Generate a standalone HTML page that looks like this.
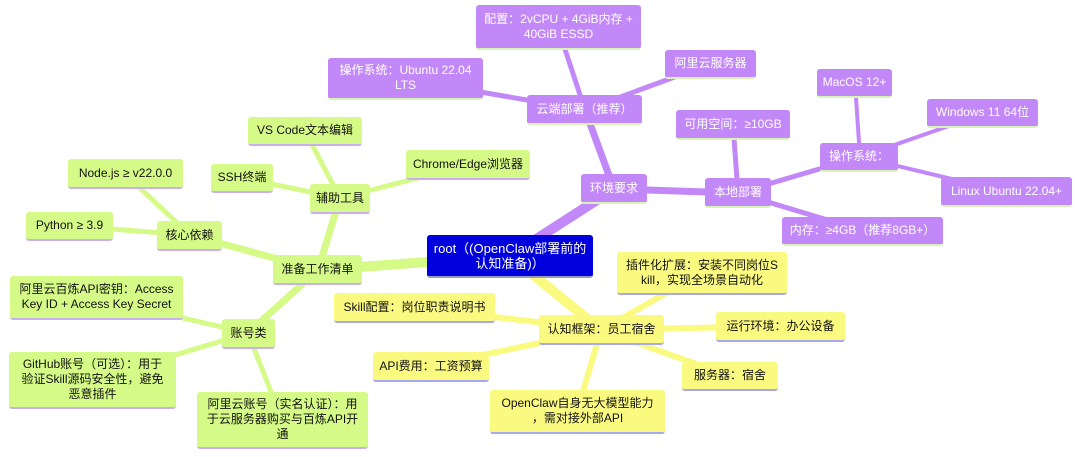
<!DOCTYPE html>
<html><head><meta charset="utf-8"><style>
body{margin:0;width:1080px;height:457px;background:#fff;position:relative;overflow:hidden;font-family:"Liberation Sans","Noto Sans CJK SC",sans-serif;}
.n{position:absolute;box-sizing:border-box;display:flex;align-items:center;justify-content:center;text-align:center;font-size:12px;line-height:15px;border-radius:3px;padding:0 4px;}
.p{background:#c388f8;color:#fff;border-bottom:2px solid #d8f3b8;}
.g{background:#d6fa87;color:#111;border-bottom:2px solid #c8b0f0;}
.y{background:#fbfa80;color:#111;border-bottom:2px solid #a8a8f0;}
.r{background:#0000dd;color:#fff;border-bottom:2px solid #99b;font-size:13px;}
svg{position:absolute;left:0;top:0}
</style></head><body>
<svg width="1080" height="457" stroke-linecap="round">
<g stroke="#c388f8">
<line x1="510" y1="256" x2="614" y2="189" stroke-width="10"/>
<line x1="614" y1="189" x2="585" y2="110" stroke-width="7"/>
<line x1="614" y1="189" x2="738" y2="193" stroke-width="7"/>
<line x1="585" y1="110" x2="558" y2="28" stroke-width="5"/>
<line x1="585" y1="110" x2="405" y2="79" stroke-width="5"/>
<line x1="585" y1="110" x2="710" y2="64" stroke-width="5"/>
<line x1="738" y1="193" x2="733" y2="125" stroke-width="5"/>
<line x1="738" y1="193" x2="860" y2="157" stroke-width="5"/>
<line x1="738" y1="193" x2="864" y2="231" stroke-width="5"/>
<line x1="860" y1="157" x2="855" y2="83" stroke-width="4"/>
<line x1="860" y1="157" x2="983" y2="114" stroke-width="4"/>
<line x1="860" y1="157" x2="1006" y2="192" stroke-width="4"/>
</g>
<g stroke="#d6fa87">
<line x1="510" y1="256" x2="318" y2="270" stroke-width="10"/>
<line x1="318" y1="270" x2="340" y2="198" stroke-width="7"/>
<line x1="318" y1="270" x2="190" y2="235" stroke-width="7"/>
<line x1="318" y1="270" x2="248" y2="333" stroke-width="7"/>
<line x1="340" y1="198" x2="305" y2="131" stroke-width="5"/>
<line x1="340" y1="198" x2="242" y2="178" stroke-width="5"/>
<line x1="340" y1="198" x2="468" y2="165" stroke-width="5"/>
<line x1="190" y1="235" x2="125" y2="174" stroke-width="5"/>
<line x1="190" y1="235" x2="70" y2="226" stroke-width="5"/>
<line x1="248" y1="333" x2="96" y2="298" stroke-width="5"/>
<line x1="248" y1="333" x2="92" y2="380" stroke-width="5"/>
<line x1="248" y1="333" x2="282" y2="420" stroke-width="5"/>
</g>
<g stroke="#fbfa80">
<line x1="510" y1="256" x2="601" y2="330" stroke-width="10"/>
<line x1="601" y1="330" x2="702" y2="273" stroke-width="6"/>
<line x1="601" y1="330" x2="414" y2="307" stroke-width="6"/>
<line x1="601" y1="330" x2="780" y2="326" stroke-width="6"/>
<line x1="601" y1="330" x2="431" y2="366" stroke-width="6"/>
<line x1="601" y1="330" x2="730" y2="376" stroke-width="6"/>
<line x1="601" y1="330" x2="577" y2="412" stroke-width="6"/>
</g>
</svg>
<div class="n r" style="left:427px;top:235px;width:166px;height:43px;">root（(OpenClaw部署前的<br>认知准备)）</div>
<div class="n p" style="left:476px;top:5px;width:165px;height:45px;">配置：2vCPU + 4GiB内存 +<br>40GiB ESSD</div>
<div class="n p" style="left:328px;top:58px;width:155px;height:42px;">操作系统：Ubuntu 22.04<br>LTS</div>
<div class="n p" style="left:665px;top:50px;width:91px;height:29px;">阿里云服务器</div>
<div class="n p" style="left:527px;top:95px;width:115px;height:30px;">云端部署（推荐）</div>
<div class="n p" style="left:581px;top:174px;width:66px;height:30px;">环境要求</div>
<div class="n p" style="left:705px;top:178px;width:66px;height:30px;">本地部署</div>
<div class="n p" style="left:676px;top:110px;width:114px;height:30px;">可用空间：≥10GB</div>
<div class="n p" style="left:817px;top:69px;width:75px;height:29px;">MacOS 12+</div>
<div class="n p" style="left:820px;top:143px;width:78px;height:29px;">操作系统：</div>
<div class="n p" style="left:927px;top:99px;width:111px;height:29px;">Windows 11 64位</div>
<div class="n p" style="left:941px;top:177px;width:131px;height:30px;">Linux Ubuntu 22.04+</div>
<div class="n p" style="left:782px;top:217px;width:161px;height:29px;">内存：≥4GB（推荐8GB+）</div>

<div class="n g" style="left:248px;top:117px;width:114px;height:29px;">VS Code文本编辑</div>
<div class="n g" style="left:406px;top:150px;width:124px;height:30px;">Chrome/Edge浏览器</div>
<div class="n g" style="left:211px;top:164px;width:62px;height:29px;">SSH终端</div>
<div class="n g" style="left:310px;top:184px;width:60px;height:30px;">辅助工具</div>
<div class="n g" style="left:68px;top:159px;width:115px;height:30px;">Node.js ≥ v22.0.0</div>
<div class="n g" style="left:26px;top:212px;width:87px;height:29px;">Python ≥ 3.9</div>
<div class="n g" style="left:157px;top:221px;width:65px;height:30px;">核心依赖</div>
<div class="n g" style="left:273px;top:255px;width:89px;height:30px;">准备工作清单</div>
<div class="n g" style="left:10px;top:276px;width:173px;height:44px;">阿里云百炼API密钥：Access<br>Key ID + Access Key Secret</div>
<div class="n g" style="left:222px;top:319px;width:53px;height:30px;">账号类</div>
<div class="n g" style="left:9px;top:352px;width:167px;height:57px;">GitHub账号（可选）：用于<br>验证Skill源码安全性，避免<br>恶意插件</div>
<div class="n g" style="left:197px;top:392px;width:171px;height:57px;">阿里云账号（实名认证）：用<br>于云服务器购买与百炼API开<br>通</div>

<div class="n y" style="left:617px;top:252px;width:170px;height:43px;">插件化扩展：安装不同岗位S<br>kill，实现全场景自动化</div>
<div class="n y" style="left:334px;top:293px;width:161px;height:30px;">Skill配置：岗位职责说明书</div>
<div class="n y" style="left:539px;top:315px;width:125px;height:30px;">认知框架：员工宿舍</div>
<div class="n y" style="left:716px;top:312px;width:129px;height:30px;">运行环境：办公设备</div>
<div class="n y" style="left:373px;top:352px;width:116px;height:30px;">API费用：工资预算</div>
<div class="n y" style="left:682px;top:362px;width:96px;height:29px;">服务器：宿舍</div>
<div class="n y" style="left:490px;top:390px;width:175px;height:44px;">OpenClaw自身无大模型能力<br>，需对接外部API</div>
</body></html>
